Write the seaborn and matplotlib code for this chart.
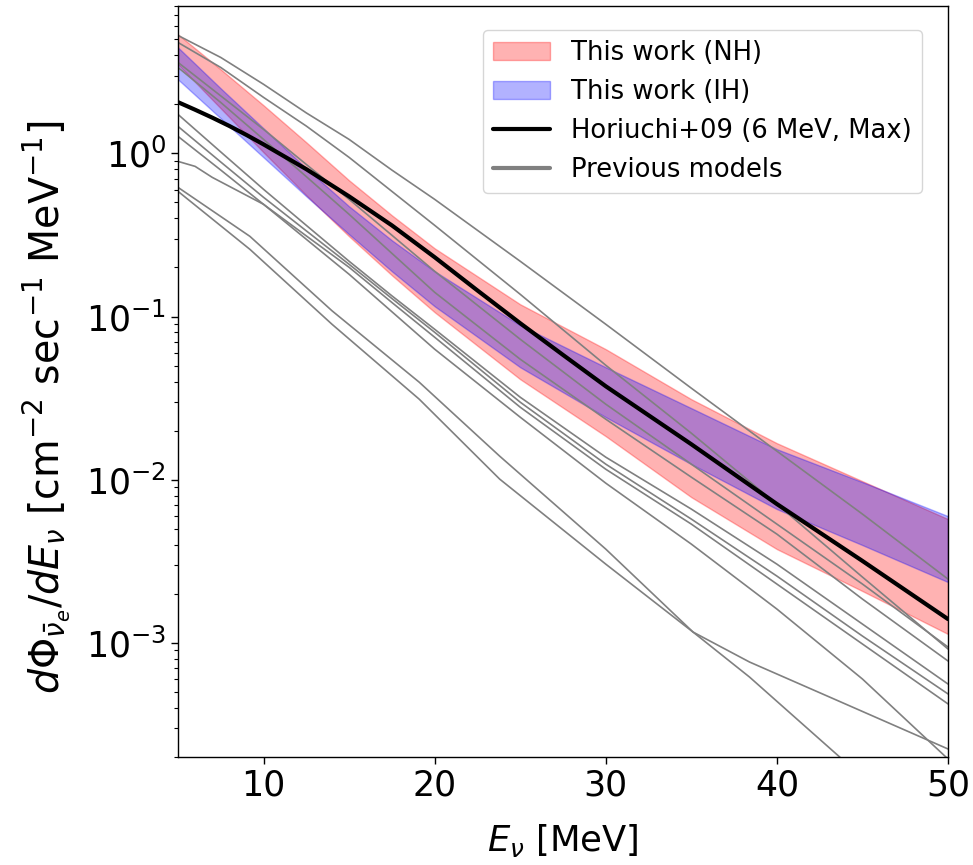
import numpy as np
import pandas as pd
import seaborn as sns
import matplotlib
matplotlib.use("Agg")
import matplotlib.pyplot as plt
from matplotlib.patches import Patch
from matplotlib.lines import Line2D

# ---------------- data ----------------
E_band = [5, 7.5, 10, 12.5, 15, 17.5, 20, 25, 30, 35, 40, 45, 50]
nh_upper = [5.36, 3.27, 1.97, 1.168, 0.6834, 0.4173, 0.2619, 0.1189, 0.0631, 0.03115, 0.01675, 0.0098, 0.00574]
nh_lower = [3.51, 1.886, 1.014, 0.553, 0.3102, 0.179, 0.1063, 0.0413, 0.01849, 0.00782, 0.003758, 0.002079, 0.001134]
ih_upper = [4.458, 2.50, 1.423, 0.809, 0.4736, 0.2933, 0.1894, 0.0885, 0.0489, 0.02745, 0.01539, 0.00967, 0.005985]
ih_lower = [2.84, 1.638, 0.945, 0.5453, 0.3191, 0.1894, 0.1156, 0.0489, 0.02417, 0.01246, 0.00661, 0.003977, 0.00236]

E_horiuchi = [5, 6, 7, 8, 9, 10, 12.5, 15, 17.5, 20, 22.5, 25, 27.5, 30, 35, 40, 45, 50]
horiuchi = [2.06, 1.851, 1.656, 1.472, 1.297, 1.135, 0.80, 0.545, 0.362, 0.231, 0.1445, 0.091,
            0.0582, 0.0374, 0.0165, 0.0071, 0.00318, 0.0014]

E_prev = [5, 7.5, 10, 12.5, 15, 17.5, 20, 25, 30, 35, 40, 45, 50]
prev_1 = [5.28, 3.87, 2.65, 1.77, 1.218, 0.79, 0.5228, 0.2182, 0.0897, 0.0364, 0.01497, 0.00616, 0.002462]
prev_2 = [4.782, 3.36, 2.203, 1.47, 0.945, 0.585, 0.3623, 0.1369, 0.0503, 0.01929, 0.00709, 0.002533, 0.000918]
prev_3 = [3.608, 2.25, 1.403, 0.855, 0.5228, 0.315, 0.1894, 0.0726, 0.02904, 0.01246, 0.005348, 0.002295, 0.000944]
prev_4 = [3.363, 2.05, 1.218, 0.72, 0.4231, 0.244, 0.1408, 0.05477, 0.0235, 0.01037, 0.004644, 0.001857, 0.000775]
prev_5 = [1.733, 1.02, 0.602, 0.362, 0.2182, 0.134, 0.0836, 0.03204, 0.01375, 0.00661, 0.00304, 0.001305, 0.00056]
prev_6 = [1.463, 0.885, 0.5377, 0.335, 0.209, 0.129, 0.0801, 0.02987, 0.01246, 0.00574, 0.002569, 0.001102, 0.000487]
prev_7 = [1.271, 0.79, 0.4872, 0.312, 0.2003, 0.122, 0.0747, 0.02783, 0.0116, 0.005348, 0.002295, 0.000985, 0.000423]

E_k = [5, 6, 7, 10, 15, 20, 25, 30, 35, 40, 45, 50]
prev_8 = [0.893, 0.8324, 0.7129, 0.4872, 0.1816, 0.0631, 0.02417, 0.00953, 0.004033, 0.001613, 0.000601, 0.0001945]

E_low = [5, 9.2, 14, 19.1, 23.8, 30, 35.1, 38.4, 43.6, 50]
prev_9 = [0.619, 0.3102, 0.1085, 0.03959, 0.01395, 0.003758, 0.001166, 0.000618, 0.000203, 0.0000517]
prev_10 = [0.5853, 0.2583, 0.0897, 0.03115, 0.01009, 0.00304, 0.001166, 0.000764, 0.000441, 0.000224]

legend_labels = ["This work (NH)", "This work (IH)", "Horiuchi+09 (6 MeV, Max)", "Previous models"]

# ---------------- style ----------------
sns.set_style("ticks")
plt.rcParams["font.family"] = ["DejaVu Sans"]
plt.rcParams["mathtext.fontset"] = "dejavusans"
for k in ["text.color", "axes.labelcolor", "xtick.color", "ytick.color", "axes.edgecolor"]:
    plt.rcParams[k] = "black"

fig = plt.figure(figsize=(9.73, 8.65), dpi=100)
ax = fig.add_axes([178 / 973, 1 - 757 / 865, (948 - 178) / 973, (757 - 6) / 865])

rows = []
for i, m in enumerate([prev_1, prev_2, prev_3, prev_4, prev_5, prev_6, prev_7]):
    rows += [(i, e, v) for e, v in zip(E_prev, m)]
rows += [(7, e, v) for e, v in zip(E_k, prev_8)]
for i, m in enumerate([prev_9, prev_10]):
    rows += [(8 + i, e, v) for e, v in zip(E_low, m)]
prev_df = pd.DataFrame(rows, columns=["model", "E", "flux"])
sns.lineplot(data=prev_df, x="E", y="flux", units="model", estimator=None, sort=False,
             color="gray", lw=1.2, ax=ax, legend=False)

ax.fill_between(E_band, nh_lower, nh_upper, color="red", alpha=0.3, lw=1)
ax.fill_between(E_band, ih_lower, ih_upper, color="blue", alpha=0.3, lw=1)

hor_df = pd.DataFrame({"E": E_horiuchi, "flux": horiuchi})
sns.lineplot(data=hor_df, x="E", y="flux", color="black", lw=3, ax=ax, legend=False)

ax.set_yscale("log")
ax.set_xlim(5, 50)
ax.set_ylim(2.0e-4, 8.0)
ax.set_xticks([10, 20, 30, 40, 50])

ax.set_xlabel(r"$E_\nu$ [MeV]", fontsize=25.5, labelpad=14)
ax.set_ylabel(r"$d\Phi_{\bar{\nu}_e}/dE_\nu$ [cm$^{-2}$ sec$^{-1}$ MeV$^{-1}$]", fontsize=28.5)
ax.yaxis.set_label_coords(-0.138, 0.466)
ax.tick_params(axis="both", which="major", labelsize=25, length=5, width=1.0)
ax.tick_params(axis="both", which="minor", length=3, width=0.8)
for s in ax.spines.values():
    s.set_linewidth(1.0)

handles = [
    Patch(facecolor=(1, 0, 0, 0.3), edgecolor=(1, 0, 0, 0.3), lw=1),
    Patch(facecolor=(0, 0, 1, 0.3), edgecolor=(0, 0, 1, 0.3), lw=1),
    Line2D([], [], color="black", lw=3),
    Line2D([], [], color="gray", lw=3),
]
ax.legend(handles, legend_labels, loc="upper right", bbox_to_anchor=(0.966, 0.968),
          borderaxespad=0, fontsize=18.6, handlelength=2.2, frameon=True)

fig.savefig("out.png", dpi=100)
